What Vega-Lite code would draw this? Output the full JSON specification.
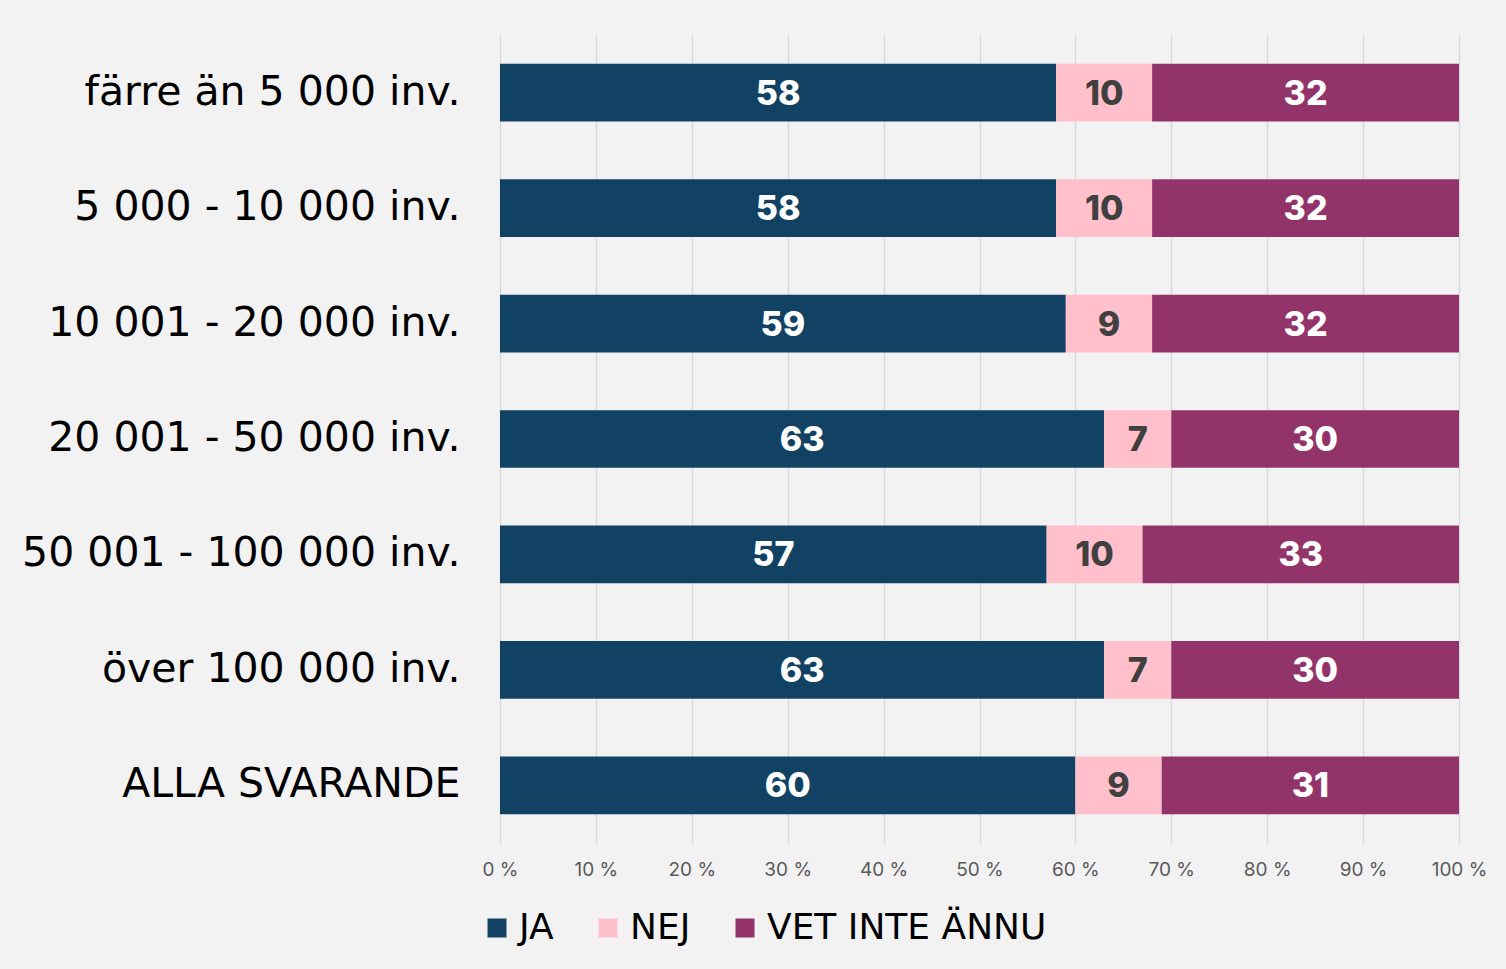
{
  "$schema": "https://vega.github.io/schema/vega-lite/v6.json",
  "autosize": {"type": "none"},
  "width": 959,
  "height": 808,
  "padding": {"left": 500, "top": 35, "right": 47, "bottom": 126},
  "background": "#f2f2f2",
  "config": {"font": "Inter", "view": {"stroke": null}},
  "data": {"values": [
    {"group": "färre än 5 000 inv.", "answer": "JA", "ord": 1, "value": 58},
    {"group": "färre än 5 000 inv.", "answer": "NEJ", "ord": 2, "value": 10},
    {"group": "färre än 5 000 inv.", "answer": "VET INTE ÄNNU", "ord": 3, "value": 32},
    {"group": "5 000 - 10 000 inv.", "answer": "JA", "ord": 1, "value": 58},
    {"group": "5 000 - 10 000 inv.", "answer": "NEJ", "ord": 2, "value": 10},
    {"group": "5 000 - 10 000 inv.", "answer": "VET INTE ÄNNU", "ord": 3, "value": 32},
    {"group": "10 001 - 20 000 inv.", "answer": "JA", "ord": 1, "value": 59},
    {"group": "10 001 - 20 000 inv.", "answer": "NEJ", "ord": 2, "value": 9},
    {"group": "10 001 - 20 000 inv.", "answer": "VET INTE ÄNNU", "ord": 3, "value": 32},
    {"group": "20 001 - 50 000 inv.", "answer": "JA", "ord": 1, "value": 63},
    {"group": "20 001 - 50 000 inv.", "answer": "NEJ", "ord": 2, "value": 7},
    {"group": "20 001 - 50 000 inv.", "answer": "VET INTE ÄNNU", "ord": 3, "value": 30},
    {"group": "50 001 - 100 000 inv.", "answer": "JA", "ord": 1, "value": 57},
    {"group": "50 001 - 100 000 inv.", "answer": "NEJ", "ord": 2, "value": 10},
    {"group": "50 001 - 100 000 inv.", "answer": "VET INTE ÄNNU", "ord": 3, "value": 33},
    {"group": "över 100 000 inv.", "answer": "JA", "ord": 1, "value": 63},
    {"group": "över 100 000 inv.", "answer": "NEJ", "ord": 2, "value": 7},
    {"group": "över 100 000 inv.", "answer": "VET INTE ÄNNU", "ord": 3, "value": 30},
    {"group": "ALLA SVARANDE", "answer": "JA", "ord": 1, "value": 60},
    {"group": "ALLA SVARANDE", "answer": "NEJ", "ord": 2, "value": 9},
    {"group": "ALLA SVARANDE", "answer": "VET INTE ÄNNU", "ord": 3, "value": 31}
  ]},
  "transform": [
    {"stack": "value", "groupby": ["group"], "sort": [{"field": "ord", "order": "ascending"}], "as": ["x0", "x1"]},
    {"calculate": "(datum.x0 + datum.x1) / 2", "as": "xmid"}
  ],
  "encoding": {
    "y": {
      "field": "group", "type": "nominal",
      "sort": ["färre än 5 000 inv.", "5 000 - 10 000 inv.", "10 001 - 20 000 inv.", "20 001 - 50 000 inv.", "50 001 - 100 000 inv.", "över 100 000 inv.", "ALLA SVARANDE"],
      "scale": {"paddingInner": 0.5, "paddingOuter": 0.25},
      "axis": {"title": null, "ticks": false, "domain": false, "labelFontSize": 41, "labelColor": "#000000", "labelPadding": 40, "labelFont": "DejaVu Sans", "labelLimit": 600}
    }
  },
  "layer": [
    {
      "mark": {"type": "bar"},
      "encoding": {
        "x": {
          "field": "x0", "type": "quantitative",
          "scale": {"domain": [0, 100], "nice": false},
          "axis": {"title": null, "values": [0,10,20,30,40,50,60,70,80,90,100], "labelExpr": "datum.value + ' %'", "labelFlush": false, "domain": false, "ticks": false, "grid": true, "gridColor": "#d9d9d9", "gridWidth": 1.5, "labelFontSize": 19, "labelColor": "#595959", "labelPadding": 17}
        },
        "x2": {"field": "x1"},
        "color": {
          "field": "answer", "type": "nominal",
          "scale": {"domain": ["JA", "NEJ", "VET INTE ÄNNU"], "range": ["#124263", "#ffc0cb", "#92346a"]},
          "legend": {"title": null, "orient": "none", "direction": "horizontal", "legendX": -21, "legendY": 875, "symbolType": "square", "symbolSize": 361, "symbolStrokeWidth": 0, "labelFont": "DejaVu Sans", "labelFontSize": 36, "labelColor": "#000000", "labelOffset": 4, "columnPadding": 36, "labelLimit": 600}
        }
      }
    },
    {
      "mark": {"type": "text", "fontWeight": 800, "fontSize": 34, "baseline": "middle", "align": "center", "dy": 2},
      "encoding": {
        "x": {"field": "xmid", "type": "quantitative"},
        "text": {"field": "value", "type": "quantitative"},
        "color": {"condition": {"test": "datum.answer === 'NEJ'", "value": "#404040"}, "value": "#ffffff"}
      }
    }
  ]
}
